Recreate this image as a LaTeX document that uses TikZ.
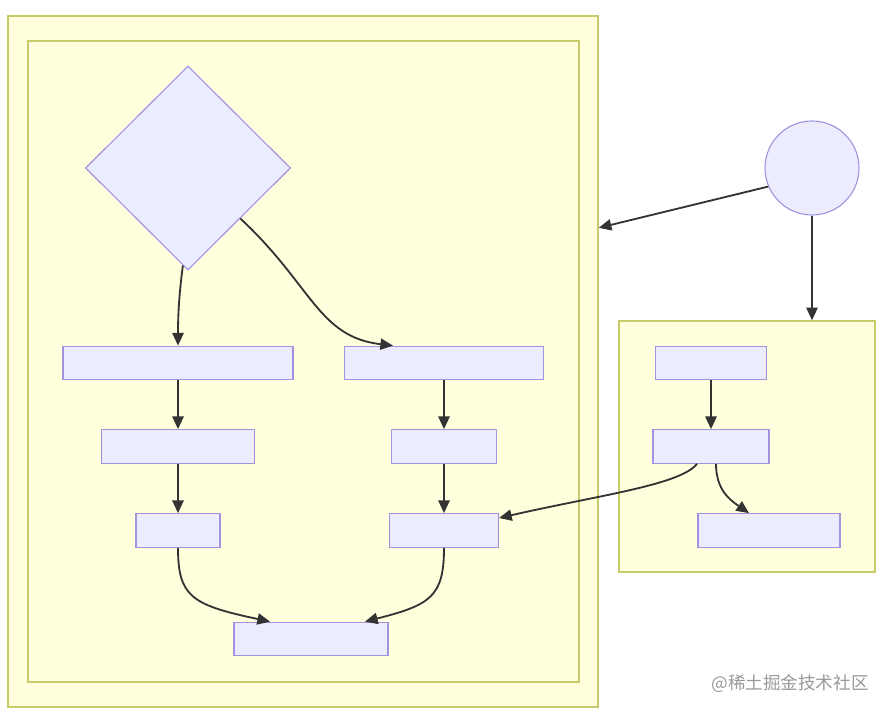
\documentclass[tikz,border=0pt]{standalone}
\usepackage{fontspec}
\newfontfamily\cjk{Noto Sans CJK SC}
\usetikzlibrary{arrows.meta, positioning, calc, shapes.geometric}
\definecolor{clusterfill}{HTML}{FFFFDE}
\definecolor{clusterborder}{HTML}{C8CB6A}
\definecolor{nodefill}{HTML}{ECECFF}
\definecolor{nodeborder}{HTML}{A392E0}
\definecolor{linkgray}{HTML}{333333}

\begin{document}
\begin{tikzpicture}[x=0.025cm, y=0.025cm,
      cluster/.style={draw=clusterborder, fill=clusterfill, line width=0.9pt,
        inner sep=0pt},
      box/.style={draw=nodeborder, fill=nodefill, line width=0.8pt,
        minimum height=0.84cm, inner sep=0pt},
      decision/.style={diamond, aspect=1, draw=nodeborder, fill=nodefill,
        line width=0.8pt, minimum width=5.125cm, minimum height=5.1cm, inner sep=0pt},
      startnode/.style={circle, draw=nodeborder, fill=nodefill, line width=0.8pt,
        minimum size=2.35cm, inner sep=0pt},
      link/.style={->, draw=linkgray, line width=1.3pt},
      >={Triangle[length=9pt, width=8pt]}
    ]
      \useasboundingbox (0,0) rectangle (891,715);
      % subgraphs
      \node[cluster, minimum width=14.75cm, minimum height=17.275cm] (outer) at (303,353.5) {};
      \node[cluster, minimum width=13.775cm, minimum height=16.025cm] (inner) at (303.5,353.5) {};
      \node[cluster, minimum width=6.4cm, minimum height=6.275cm] (rbox) at (747,268.5) {};

      \node[decision] (check) at (188,547) {};
      \node[startnode] (begin) at (812,547) {};

      % left branch
      \node[box, minimum width=5.75cm] (left1) at (178,352) {};
      \node[box, minimum width=3.825cm] (left2) at (178,268.5) {};
      \node[box, minimum width=2.1cm] (left3) at (178,184.5) {};
      % right branch
      \node[box, minimum width=4.975cm] (right1) at (444,352) {};
      \node[box, minimum width=2.625cm] (right2) at (444,268.5) {};
      \node[box, minimum width=2.725cm] (right3) at (444,184.5) {};
      \node[box, minimum width=3.85cm] (merge) at (311,76) {};
      % side group
      \node[box, minimum width=2.775cm] (side1) at (711,352) {};
      \node[box, minimum width=2.9cm] (side2) at (711,268.5) {};
      \node[box, minimum width=3.55cm] (side3) at (769,184.5) {};

      \coordinate (hit) at ($(outer.north east)!0.307!(outer.south east)$);

      \draw[link] (check.-93) .. controls (179,420) and (178,400) .. (left1.north);
      \draw[link] (check.-44) .. controls (312,430) and (318,378) .. ($(right1.north)+(-51,0)$);
      \draw[link] (left1) -- (left2);
      \draw[link] (left2) -- (left3);
      \draw[link] (right1) -- (right2);
      \draw[link] (right2) -- (right3);
      \draw[link] (left3.south) .. controls (178,118) and (192,110) .. ($(merge.north)+(-41,0)$);
      \draw[link] (right3.south) .. controls (444,118) and (430,110) .. ($(merge.north)+(54,0)$);
      \draw[link] (begin.203) -- (hit);
      \draw[link] (begin.south) -- (begin.south |- rbox.north);
      \draw[link] (side1) -- (side2);
      \draw[link] ($(side2.south)+(-14,0)$) .. controls (680,230) and (600,220) .. ($(right3.east)+(0,12.5)$);
      \draw[link] ($(side2.south)+(5,0)$) .. controls (716,225) and (730,215) .. ($(side3.north)+(-20,0)$);

      \node[text=black!40, font=\cjk\fontsize{12.5pt}{14pt}\selectfont] (mark) at (790,31) {@稀土掘金技术社区};
    \end{tikzpicture}
\end{document}
